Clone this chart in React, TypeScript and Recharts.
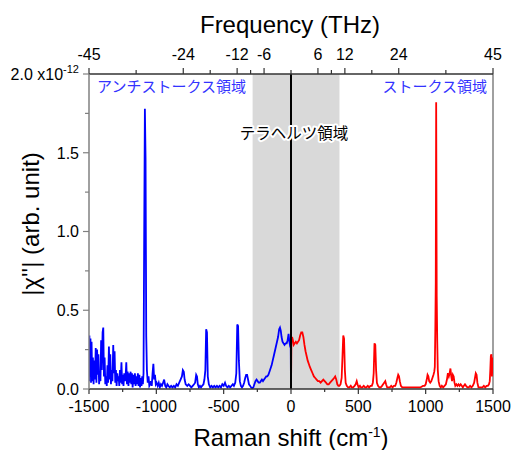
import React from 'react';
import { ComposedChart, Line, XAxis, YAxis, ReferenceArea, ReferenceLine } from 'recharts';

// Raman shift (cm^-1) and |chi''| in units of 1e-12
const blueX = [
  -1500, -1497, -1493, -1489, -1485, -1481, -1476, -1471, -1466, -1461, -1456, -1450, -1445, -1440, -1435, -1430,
  -1425, -1420, -1415, -1410, -1405, -1399, -1394, -1389, -1384, -1379, -1374, -1368, -1363, -1358, -1352, -1347,
  -1342, -1337, -1332, -1326, -1320, -1315, -1310, -1305, -1300, -1295, -1290, -1285, -1280, -1275, -1270, -1265,
  -1259, -1254, -1249, -1244, -1238, -1233, -1228, -1223, -1218, -1213, -1207, -1202, -1197, -1191, -1186, -1181,
  -1176, -1170, -1165, -1159, -1154, -1148, -1143, -1137, -1132, -1126, -1121, -1115, -1110, -1105, -1100, -1095,
  -1090, -1085, -1080, -1075, -1070, -1064, -1058, -1052, -1046, -1040, -1034, -1028, -1022, -1016, -1010, -1004,
  -998, -990, -982, -974, -966, -958, -950, -942, -934, -926, -918, -910, -900, -890, -880, -870,
  -860, -850, -840, -830, -820, -810, -803, -796, -790, -782, -770, -760, -750, -740, -730, -720,
  -712, -704, -698, -692, -684, -676, -668, -660, -650, -643, -636, -630, -624, -618, -610, -600,
  -590, -580, -570, -560, -550, -540, -530, -520, -510, -500, -490, -482, -472, -462, -452, -442,
  -432, -424, -414, -406, -399, -393, -387, -380, -372, -364, -356, -348, -340, -333, -326, -319,
  -312, -304, -296, -288, -280, -272, -264, -256, -248, -240, -232, -224, -216, -208, -200, -192,
  -184, -176, -168, -160, -152, -144, -136, -128, -120, -112, -104, -96, -88, -82, -76, -70,
  -63, -56, -48, -40, -32, -25, -18, -12, -6, -2, 0,
];
const blueY = [
  0.05, 0.34, 0.08, 0.32, 0.04, 0.30, 0.05, 0.20, 0.03, 0.18, 0.06, 0.26, 0.04, 0.25, 0.09, 0.22,
  0.03, 0.11, 0.05, 0.31, 0.12, 0.36, 0.39, 0.08, 0.20, 0.03, 0.08, 0.02, 0.15, 0.04, 0.27, 0.06,
  0.22, 0.03, 0.12, 0.05, 0.28, 0.10, 0.24, 0.04, 0.12, 0.02, 0.10, 0.05, 0.08, 0.02, 0.12, 0.04,
  0.17, 0.03, 0.09, 0.02, 0.10, 0.05, 0.08, 0.17, 0.03, 0.11, 0.02, 0.10, 0.04, 0.11, 0.03, 0.10,
  0.01, 0.09, 0.03, 0.10, 0.02, 0.08, 0.03, 0.10, 0.02, 0.09, 0.01, 0.07, 0.02, 0.08, 0.03, 0.10,
  1.0, 1.78, 1.46, 0.34, 0.12, 0.04, 0.08, 0.02, 0.03, 0.05, 0.02, 0.10, 0.16, 0.06, 0.09, 0.03,
  0.04, 0.02, 0.04, 0.01, 0.03, 0.02, 0.04, 0.06, 0.02, 0.01, 0.03, 0.02, 0.01, 0.02, 0.01, 0.02,
  0.01, 0.03, 0.02, 0.04, 0.06, 0.08, 0.12, 0.11, 0.06, 0.03, 0.02, 0.03, 0.02, 0.01, 0.02, 0.03,
  0.04, 0.09, 0.08, 0.03, 0.01, 0.02, 0.01, 0.02, 0.03, 0.06, 0.12, 0.38, 0.36, 0.08, 0.03, 0.01,
  0.02, 0.01, 0.02, 0.01, 0.02, 0.01, 0.02, 0.01, 0.03, 0.02, 0.04, 0.02, 0.01, 0.02, 0.01, 0.02,
  0.03, 0.02, 0.04, 0.10, 0.41, 0.40, 0.18, 0.05, 0.02, 0.01, 0.02, 0.04, 0.07, 0.09, 0.09, 0.06,
  0.03, 0.02, 0.01, 0.005, 0.01, 0.03, 0.05, 0.06, 0.05, 0.04, 0.04, 0.05, 0.06, 0.05, 0.06, 0.07,
  0.08, 0.08, 0.09, 0.11, 0.13, 0.15, 0.18, 0.21, 0.24, 0.27, 0.30, 0.33, 0.38, 0.39, 0.37, 0.33,
  0.30, 0.29, 0.28, 0.29, 0.29, 0.31, 0.35, 0.30, 0.27, 0.26, 0.0,
];

const redX = [
  0, 3, 8, 14, 20, 28, 36, 44, 52, 60, 68, 76, 84, 92, 100, 108,
  116, 124, 132, 140, 150, 160, 170, 180, 190, 200, 210, 220, 230, 240, 250, 260,
  270, 280, 290, 300, 310, 320, 328, 336, 344, 352, 360, 368, 376, 382, 388, 394,
  400, 406, 414, 424, 434, 444, 452, 462, 472, 480, 488, 494, 502, 512, 520, 530,
  540, 550, 560, 570, 580, 590, 600, 608, 614, 620, 626, 632, 638, 646, 656, 666,
  676, 684, 692, 700, 706, 714, 724, 734, 744, 754, 764, 774, 782, 790, 796, 802,
  808, 816, 826, 840, 860, 880, 900, 920, 940, 960, 980, 992, 1000, 1008, 1014, 1020,
  1026, 1034, 1042, 1050, 1058, 1064, 1068, 1072, 1075, 1078, 1082, 1086, 1090, 1096, 1104, 1112,
  1120, 1130, 1140, 1150, 1158, 1165, 1172, 1178, 1184, 1190, 1196, 1202, 1208, 1214, 1220, 1228,
  1236, 1244, 1252, 1260, 1268, 1276, 1284, 1292, 1300, 1310, 1320, 1330, 1340, 1350, 1360, 1366,
  1372, 1378, 1384, 1392, 1402, 1412, 1422, 1432, 1442, 1452, 1462, 1470, 1476, 1480, 1484, 1488,
  1492, 1496, 1500,
];
const redY = [
  0.0, 0.30, 0.33, 0.31, 0.28, 0.29, 0.30, 0.29, 0.30, 0.31, 0.34, 0.36, 0.36, 0.33, 0.28, 0.24,
  0.21, 0.18, 0.16, 0.14, 0.12, 0.10, 0.08, 0.07, 0.06, 0.05, 0.05, 0.04, 0.05, 0.06, 0.05, 0.04,
  0.03, 0.03, 0.04, 0.05, 0.06, 0.07, 0.08, 0.06, 0.03, 0.02, 0.02, 0.03, 0.07, 0.20, 0.34, 0.32,
  0.12, 0.04, 0.02, 0.01, 0.01, 0.02, 0.01, 0.01, 0.02, 0.03, 0.05, 0.03, 0.01, 0.02, 0.01, 0.01,
  0.02, 0.01, 0.01, 0.02, 0.01, 0.02, 0.02, 0.04, 0.10, 0.29, 0.28, 0.12, 0.04, 0.02, 0.01, 0.01,
  0.02, 0.03, 0.04, 0.05, 0.03, 0.01, 0.01, 0.01, 0.02, 0.01, 0.02, 0.02, 0.04, 0.07, 0.09, 0.08,
  0.05, 0.02, 0.01, 0.01, 0.01, 0.01, 0.01, 0.01, 0.01, 0.01, 0.02, 0.02, 0.03, 0.06, 0.09, 0.08,
  0.05, 0.04, 0.05, 0.07, 0.09, 0.11, 0.14, 0.40, 0.68, 1.82, 0.59, 0.30, 0.12, 0.05, 0.02, 0.01,
  0.02, 0.01, 0.02, 0.03, 0.06, 0.10, 0.08, 0.10, 0.13, 0.08, 0.05, 0.09, 0.08, 0.04, 0.02, 0.03,
  0.02, 0.03, 0.02, 0.03, 0.02, 0.01, 0.02, 0.03, 0.02, 0.01, 0.01, 0.02, 0.01, 0.02, 0.04, 0.07,
  0.10, 0.09, 0.04, 0.01, 0.01, 0.01, 0.01, 0.02, 0.01, 0.02, 0.02, 0.03, 0.05, 0.12, 0.21, 0.22,
  0.08, 0.15, 0.20,
];

const ramanTicks = [-1500, -1250, -1000, -750, -500, -250, 0, 250, 500, 750, 1000, 1250, 1500];
const thzMajor = [-45, -24, -12, -6, 6, 12, 24, 45];
const thzMinor = [-34.5, -18, -9, 0, 9, 18, 34.5];
const yTicks = [0, 0.25, 0.5, 0.75, 1.0, 1.25, 1.5, 1.75, 2.0];
const terahertzBand = [-285, 360];

const CM_PER_THZ = 100 / 3;
const FONT = '"Liberation Sans", Arial, sans-serif';
const JP_FONT = '"Noto Sans CJK JP", sans-serif';

const blueData = blueX.map((x, i) => ({ x, y: blueY[i] }));
const redData = redX.map((x, i) => ({ x, y: redY[i] }));
const topTicks = [...thzMajor, ...thzMinor].map((t) => t * CM_PER_THZ).sort((a, b) => a - b);

const BottomTick = (props: any) => {
  const { x, y, payload } = props;
  const major = payload.value % 500 === 0;
  return (
    <g>
      <line x1={x} x2={x} y1={y} y2={y + (major ? 5 : 3)} stroke="#333" strokeWidth={1.2} />
      {major && (
        <text x={x} y={y + 23} textAnchor="middle" fontSize={16} fontFamily={FONT} fill="#000">
          {payload.value}
        </text>
      )}
    </g>
  );
};

const TopTick = (props: any) => {
  const { x, y, payload } = props;
  const thz = Math.round((payload.value / CM_PER_THZ) * 10) / 10;
  const major = thzMajor.includes(thz);
  return (
    <g>
      <line x1={x} x2={x} y1={y} y2={y - (major ? 6 : 4)} stroke="#333" strokeWidth={1.2} />
      {major && (
        <text x={x} y={y - 14} textAnchor="middle" fontSize={16} fontFamily={FONT} fill="#000">
          {thz}
        </text>
      )}
    </g>
  );
};

const LeftTick = (props: any) => {
  const { x, y, payload } = props;
  const major = Math.abs(payload.value * 2 - Math.round(payload.value * 2)) < 1e-6;
  return (
    <g>
      <line x1={x} x2={x - (major ? 6 : 4)} y1={y} y2={y} stroke="#808080" strokeWidth={1.2} />
      {major && (
        <text x={x - 10} y={y} dy="0.36em" textAnchor="end" fontSize={16} fontFamily={FONT} fill="#000">
          {payload.value.toFixed(1)}
          {payload.value === 2 && (
            <>
              {' x10'}
              <tspan dy={-7} fontSize={11}>-12</tspan>
            </>
          )}
        </text>
      )}
    </g>
  );
};

export default function App() {
  return (
    <div style={{ position: 'absolute', left: 0, top: 0, width: 512, height: 450 }}>
      <ComposedChart width={512} height={450} margin={{ top: 0, right: 19, bottom: 0, left: 0 }}>
        <XAxis
          xAxisId="bottom"
          type="number"
          dataKey="x"
          domain={[-1500, 1500]}
          allowDataOverflow
          ticks={ramanTicks}
          interval={0}
          height={61}
          tickSize={0}
          tickMargin={0}
          tickLine={false}
          tick={<BottomTick />}
          axisLine={{ stroke: '#333', strokeWidth: 1.5 }}
        />
        <XAxis
          xAxisId="top"
          orientation="top"
          type="number"
          dataKey="x"
          domain={[-1500, 1500]}
          allowDataOverflow
          ticks={topTicks}
          interval={0}
          height={74}
          tickSize={0}
          tickMargin={0}
          tickLine={false}
          tick={<TopTick />}
          axisLine={{ stroke: '#333', strokeWidth: 1.5 }}
        />
        <YAxis
          type="number"
          domain={[0, 2]}
          allowDataOverflow
          ticks={yTicks}
          interval={0}
          width={89}
          tickSize={0}
          tickMargin={0}
          tickLine={false}
          tick={<LeftTick />}
          axisLine={{ stroke: '#808080', strokeWidth: 1.5 }}
        />
        <ReferenceArea
          xAxisId="bottom"
          x1={terahertzBand[0]}
          x2={terahertzBand[1]}
          y1={0}
          y2={2}
          fill="#d9d9d9"
          fillOpacity={1}
          stroke="none"
        />
        <ReferenceLine xAxisId="bottom" x={1500} stroke="#808080" strokeWidth={1.5} />
        <Line
          xAxisId="bottom"
          data={blueData}
          dataKey="y"
          type="linear"
          stroke="#0000ff"
          strokeWidth={1.8}
          dot={false}
          isAnimationActive={false}
        />
        <Line
          xAxisId="bottom"
          data={redData}
          dataKey="y"
          type="linear"
          stroke="#ff0000"
          strokeWidth={1.8}
          dot={false}
          isAnimationActive={false}
        />
        <ReferenceLine xAxisId="bottom" x={0} stroke="#000" strokeWidth={2} />
      </ComposedChart>
      <svg
        width={512}
        height={450}
        style={{ position: 'absolute', left: 0, top: 0, pointerEvents: 'none' }}
      >
        <text x={290} y={33} textAnchor="middle" fontSize={24} fontFamily={FONT} fill="#000">
          Frequency (THz)
        </text>
        <text x={291} y={446} textAnchor="middle" fontSize={24} fontFamily={FONT} fill="#000">
          Raman shift (cm
          <tspan dy={-9} fontSize={14}>-1</tspan>
          <tspan dy={9}>)</tspan>
        </text>
        <text
          x={39}
          y={224}
          transform="rotate(-90 39 224)"
          textAnchor="middle"
          fontSize={24}
          fontFamily={FONT}
          fill="#000"
        >
          |χ''| (arb. unit)
        </text>
        <text x={97} y={92} fontSize={15} fontFamily={JP_FONT} fill="#3333ff">
          アンチストークス領域
        </text>
        <text x={487} y={92} textAnchor="end" fontSize={15} fontFamily={JP_FONT} fill="#3333ff">
          ストークス領域
        </text>
        <text
          x={294}
          y={139}
          textAnchor="middle"
          fontSize={15.5}
          fontFamily={JP_FONT}
          fill="#000"
          stroke="#fff"
          strokeWidth={4}
          paintOrder="stroke"
          strokeLinejoin="round"
        >
          テラヘルツ領域
        </text>
      </svg>
    </div>
  );
}
